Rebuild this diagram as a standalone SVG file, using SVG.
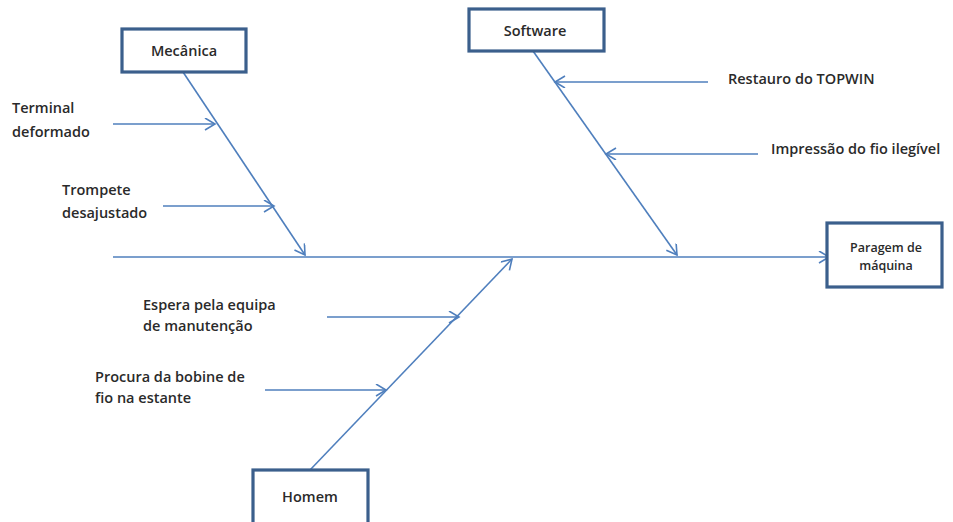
<svg xmlns="http://www.w3.org/2000/svg" width="953" height="522" viewBox="0 0 953 522">
<style>
.box{fill:#fff;stroke:#3b5f8c;stroke-width:3.2}
.ln{stroke:#4f7fbd;stroke-width:1.6;fill:none;marker-end:url(#ah)}
.t{font-family:"Open Sans","Liberation Sans",sans-serif;font-size:14.5px;font-weight:600;fill:#2a2a2a}
.c{text-anchor:middle}
.s{font-size:12.5px}
</style>
<defs>
<marker id="ah" markerWidth="14" markerHeight="14" refX="12" refY="6" orient="auto" markerUnits="userSpaceOnUse">
<path d="M2,0 L12,6 L2,12" fill="none" stroke="#4f7fbd" stroke-width="1.6"/>
</marker>
</defs>
<rect width="953" height="522" fill="#fff"/>
<g id="connectors">
<line class="ln" x1="113" y1="257" x2="829" y2="257"/>
<line class="ln" x1="183" y1="72" x2="305" y2="255"/>
<line class="ln" x1="113" y1="124" x2="215" y2="124"/>
<line class="ln" x1="163" y1="206" x2="274" y2="206"/>
<line class="ln" x1="533" y1="51" x2="677" y2="255"/>
<line class="ln" x1="708" y1="82" x2="555" y2="82"/>
<line class="ln" x1="758" y1="154" x2="606" y2="154"/>
<line class="ln" x1="310" y1="470" x2="512" y2="259"/>
<line class="ln" x1="327" y1="317" x2="459" y2="317"/>
<line class="ln" x1="265" y1="390" x2="386" y2="390"/>
</g>
<g id="mecanica">
<rect class="box" x="122" y="29" width="124" height="43"/>
<text class="t c" x="184" y="56">Mecânica</text>
</g>
<g id="software">
<rect class="box" x="469" y="9" width="135" height="42"/>
<text class="t c" x="535" y="36">Software</text>
</g>
<g id="paragem">
<rect class="box" x="827" y="223" width="115" height="64"/>
<text class="t c s" x="886" y="252">Paragem de</text>
<text class="t c s" x="886" y="270">máquina</text>
</g>
<g id="homem">
<rect class="box" x="253" y="470" width="115" height="56"/>
<text class="t c" x="310" y="502">Homem</text>
</g>
<g id="labels">
<text class="t" x="12" y="113">Terminal</text>
<text class="t" x="12" y="137">deformado</text>
<text class="t" x="62" y="195">Trompete</text>
<text class="t" x="62" y="218">desajustado</text>
<text class="t" x="728" y="84">Restauro do TOPWIN</text>
<text class="t" x="771" y="154">Impressão do fio ilegível</text>
<text class="t" x="143" y="310">Espera pela equipa</text>
<text class="t" x="143" y="331">de manutenção</text>
<text class="t" x="95" y="382">Procura da bobine de</text>
<text class="t" x="95" y="403">fio na estante</text>
</g>
</svg>
